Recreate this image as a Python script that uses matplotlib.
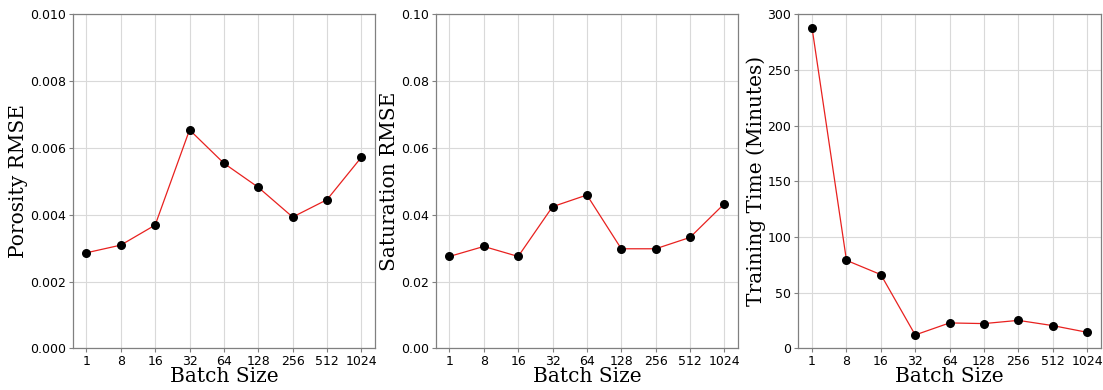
import matplotlib
matplotlib.use("Agg")
import matplotlib.pyplot as plt

batch_labels = ["1", "8", "16", "32", "64", "128", "256", "512", "1024"]
porosity_rmse = [0.00286, 0.00309, 0.00369, 0.00654, 0.00554, 0.00482, 0.00393, 0.00445, 0.00572]
saturation_rmse = [0.0275, 0.0305, 0.0275, 0.0424, 0.0459, 0.0298, 0.0298, 0.0332, 0.0433]
training_time = [287.5, 79.0, 66.2, 12.0, 22.8, 22.2, 25.1, 20.4, 14.4]

panels = [
    (porosity_rmse, "Porosity RMSE", (0, 0.010), [0, 0.002, 0.004, 0.006, 0.008, 0.010], "{:.3f}"),
    (saturation_rmse, "Saturation RMSE", (0, 0.10), [0, 0.02, 0.04, 0.06, 0.08, 0.10], "{:.2f}"),
    (training_time, "Training Time (Minutes)", (0, 300), [0, 50, 100, 150, 200, 250, 300], "{:.0f}"),
]

fig = plt.figure(figsize=(11.03, 3.9), dpi=100)
lefts = [0.0659, 0.395, 0.7238]
x = list(range(len(batch_labels)))
for left, (vals, ylabel, ylim, yticks, fmt) in zip(lefts, panels):
    ax = fig.add_axes([left, 0.1069, 0.2742, 0.8564])
    ax.plot(x, vals, color="#e8211f", lw=0.9, zorder=2)
    ax.scatter(x, vals, s=30, color="black", zorder=3)
    ax.set_ylim(*ylim)
    ax.set_yticks(yticks)
    ax.set_yticklabels([fmt.format(v) for v in yticks])
    ax.set_xticks(x)
    ax.set_xticklabels(batch_labels)
    ax.margins(x=0.05)
    ax.grid(True, color="#d9d9d9", lw=0.8)
    ax.set_axisbelow(True)
    for s in ax.spines.values():
        s.set_color("#808080")
        s.set_linewidth(0.9)
    ax.tick_params(colors="#808080", labelcolor="black", labelsize=9, length=3, pad=2)
    ax.set_xlabel("Batch Size", family="DejaVu Serif", fontsize=14.5, labelpad=-1)
    ax.set_ylabel(ylabel, family="DejaVu Serif", fontsize=14.5, labelpad=1)

fig.savefig("out.png", dpi=100)
